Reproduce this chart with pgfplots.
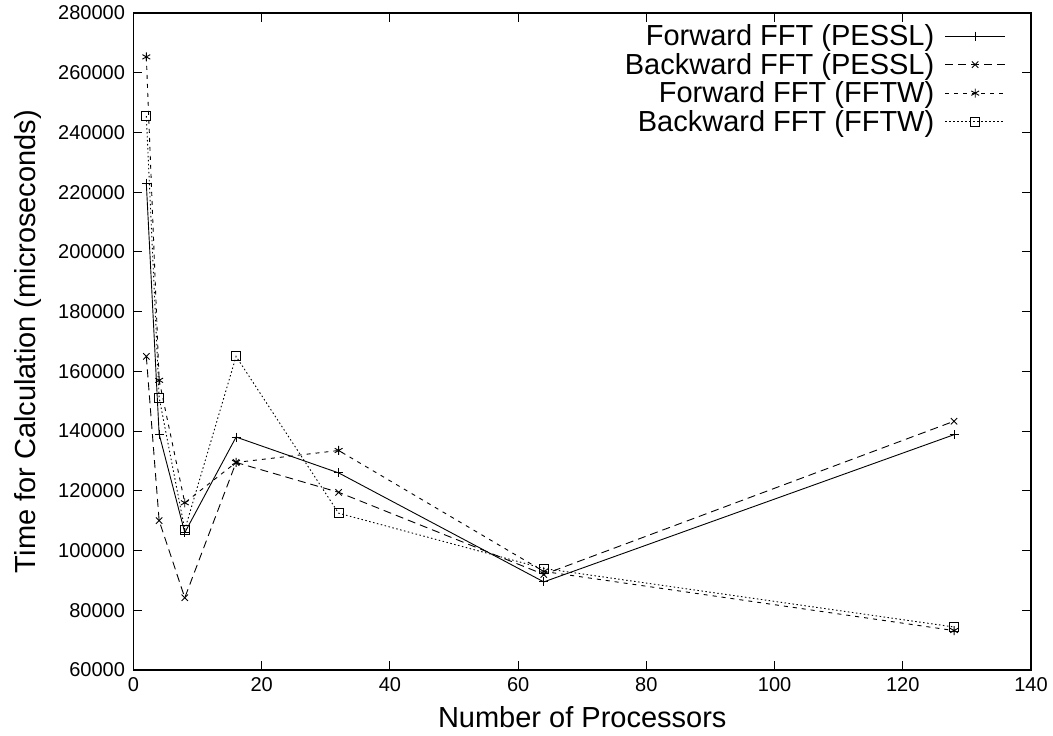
\documentclass[border=0pt]{standalone}
\usepackage{pgfplots}
\pgfplotsset{compat=1.18}
\usepackage{fontspec}
\setmainfont{Liberation Sans}
\begin{document}
\begin{tikzpicture}
\begin{axis}[
  name=ax,
  scale only axis,
  width=897.5pt, height=657pt,
  xmin=0, xmax=140, ymin=60000, ymax=280000,
  xtick={0,20,...,140},
  ytick={60000,80000,...,280000},
  scaled ticks=false,
  /pgf/number format/assume math mode=true,
  xticklabel style={/pgf/number format/fixed, /pgf/number format/1000 sep={}},
  yticklabel style={/pgf/number format/fixed, /pgf/number format/1000 sep={}},
  tick label style={font=\fontsize{20}{22}\selectfont},
  xticklabel shift=4pt,
  yticklabel shift=5pt,
  tick align=inside,
  major tick length=9pt,
  tick style={line width=1pt, black},
  axis line style={line width=1.2pt},
  every axis x label/.style={at={(axis description cs:0.5,0)}, yshift=-47pt, anchor=center, font=\fontsize{29}{30}\selectfont},
  every axis y label/.style={at={(axis description cs:0,0.5)}, xshift=-106pt, rotate=90, anchor=center, font=\fontsize{29}{30}\selectfont},
  xlabel={Number of Processors},
  ylabel={Time for Calculation (microseconds)},
  legend plot pos=right,
  legend cell align=right,
  legend style={draw=none, fill=none, at={(rel axis cs:0.972,0.983)}, anchor=north east,
    font=\fontsize{29}{29}\selectfont, row sep=5pt, inner sep=0pt,
    nodes={inner sep=0.5pt},
    /tikz/every odd column/.append style={column sep=10pt}},
  legend image code/.code={\draw[mark repeat=2, mark phase=2, #1] plot coordinates {(0pt,0pt) (30pt,0pt) (60pt,0pt)};},
  every axis plot/.append style={line width=0.9pt, black, mark size=4.5pt, mark options={solid, line width=0.9pt}},
]
\addplot[solid, mark=+] coordinates {(2,223000) (4,139000) (8,106000) (16,138000) (32,126000) (64,89500) (128,138800)};
\addlegendentry{Forward FFT (PESSL)}
\addplot[dash pattern=on 8pt off 5pt, mark=x] coordinates {(2,165000) (4,110000) (8,84200) (16,129500) (32,119500) (64,92000) (128,143300)};
\addlegendentry{Backward FFT (PESSL)}
\addplot[dash pattern=on 4pt off 5pt, mark=asterisk] coordinates {(2,265300) (4,157000) (8,116000) (16,129500) (32,133500) (64,93000) (128,73200)};
\addlegendentry{Forward FFT (FFTW)}
\addplot[dash pattern=on 1.5pt off 2.5pt, mark=square] coordinates {(2,245500) (4,151200) (8,107000) (16,165000) (32,112500) (64,94000) (128,74400)};
\addlegendentry{Backward FFT (FFTW)}
\end{axis}
\path (ax.south west) ++(-133.5pt,-65pt) coordinate (a);
\path (ax.north east) ++(22pt,13pt) coordinate (b);
\path (a) rectangle (b);
\end{tikzpicture}
\end{document}
